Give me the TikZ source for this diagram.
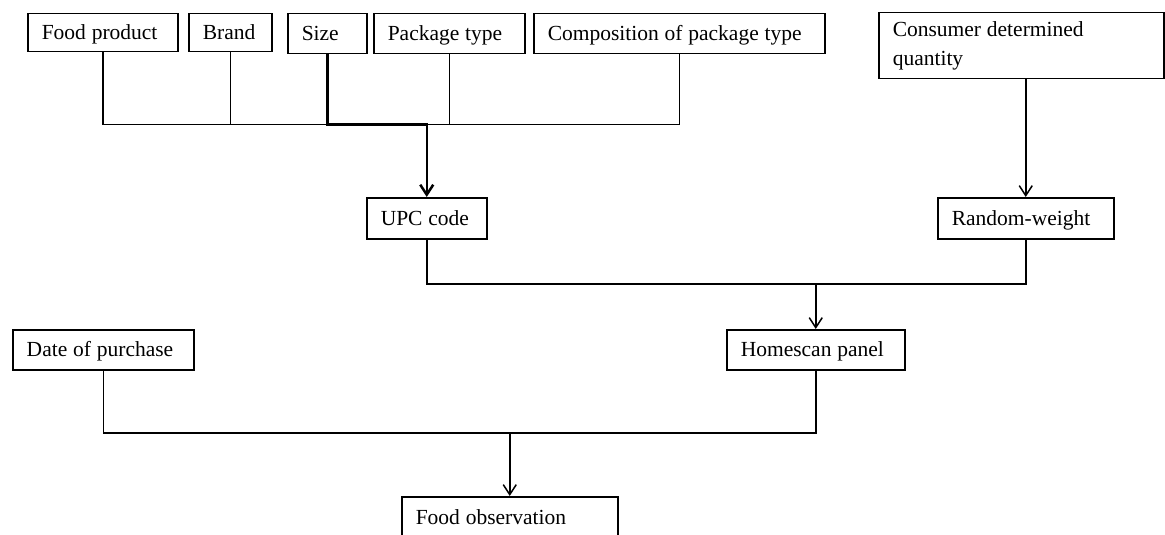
\documentclass[tikz,border=0pt]{standalone}
\usepackage{fontspec}
\setmainfont{Liberation Serif}
\usetikzlibrary{arrows.meta}
\begin{document}
\begin{tikzpicture}[x=1pt,y=-1pt,
  cell/.style={draw, line width=1.5pt, anchor=north west, inner xsep=14pt,
    inner ysep=0pt, align=left, font=\fontsize{21.5}{29}\selectfont,
    execute at begin node={\spaceskip=0.27em plus 0.04em minus 0.02em\relax}},
  oneline/.style={text height=18.3pt, text depth=4.3pt},
  link/.style={line width=1.5pt},
  bold link/.style={line width=2.5pt},
  feed/.style={-{Straight Barb[length=10pt,width=13pt]}}]
\useasboundingbox (0,0) rectangle (1165,535);
\clip (0,0) rectangle (1165,535);

% attribute boxes along the top
\node[cell,oneline,minimum width=150pt,minimum height=38pt,text width=122pt] (food) at (27,13) {Food product};
\node[cell,oneline,minimum width=83pt,minimum height=38pt,text width=55pt] (brand) at (188,13) {Brand};
\node[cell,oneline,minimum width=79pt,minimum height=40pt,text width=51pt] (size) at (287,13) {Size};
\node[cell,oneline,minimum width=151pt,minimum height=40pt,text width=123pt] (pkg) at (373,13) {Package type};
\node[cell,oneline,minimum width=291pt,minimum height=40pt,text width=263pt] (comp) at (533,13) {Composition of package type};
\node[cell,minimum width=285pt,minimum height=66pt,text width=257pt] (cons) at (878,12) {Consumer determined\\quantity};

% intermediate levels
\node[cell,oneline,minimum width=120pt,minimum height=41pt,text width=92pt] (upc) at (366,197) {UPC code};
\node[cell,oneline,minimum width=176pt,minimum height=41pt,text width=148pt] (rw) at (937,197) {Random-weight};
\node[cell,oneline,minimum width=178pt,minimum height=40pt,text width=150pt] (hs) at (726,329) {Homescan panel};
\node[cell,oneline,minimum width=181pt,minimum height=40pt,text width=153pt] (date) at (12,329) {Date of purchase};
\node[cell,oneline,minimum width=216pt,minimum height=41pt,text width=188pt] (obs) at (401,496) {Food observation};

% heights of the horizontal collector lines
\coordinate (bus) at (0,124.5);
\coordinate (bus2) at (0,284);
\coordinate (bus3) at (0,433);

% top collector into UPC code
\draw[link] (food.south) -- (food.south |- bus) -- (comp.south |- bus) -- (comp.south);
\draw[link] (brand.south) -- (brand.south |- bus);
\draw[link] (pkg.south) -- (pkg.south |- bus);
\draw[bold link, feed] (size.south) -- (size.south |- bus) -- (upc.north |- bus) -- (upc.north);

% consumer quantity into random-weight
\draw[link, feed] (rw.north |- cons.south) -- (rw.north);

% UPC code and random-weight into Homescan panel
\draw[link] (upc.south) -- (upc.south |- bus2) -- (rw.south |- bus2) -- (rw.south);
\draw[link, feed] (hs.north |- bus2) -- (hs.north);

% date and panel into food observation
\draw[link] (date.south) -- (date.south |- bus3) -- (hs.south |- bus3) -- (hs.south);
\draw[link, feed] (obs.north |- bus3) -- (obs.north);
\end{tikzpicture}
\end{document}
